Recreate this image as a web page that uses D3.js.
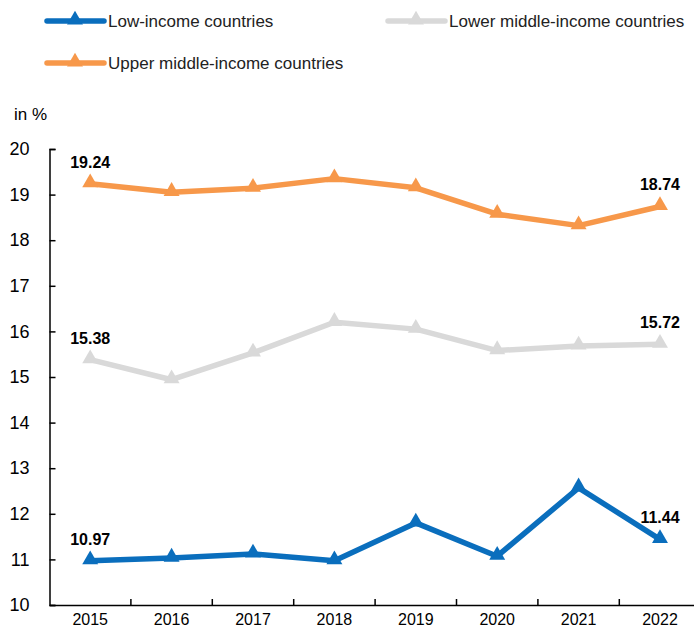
<!DOCTYPE html>
<html><head><meta charset="utf-8">
<script src="https://cdn.jsdelivr.net/npm/d3@7"></script>
<style>body{margin:0;background:#fff}svg{display:block;font-family:"Liberation Sans",Arial,sans-serif}</style>
</head><body><svg id="c" width="694" height="629"></svg>
<script>
const years = ["2015","2016","2017","2018","2019","2020","2021","2022"];
const lowIncome = [10.97, 11.03, 11.12, 10.97, 11.80, 11.07, 12.57, 11.44];
const lowerMiddle = [15.38, 14.94, 15.53, 16.20, 16.05, 15.58, 15.68, 15.72];
const upperMiddle = [19.24, 19.05, 19.14, 19.35, 19.15, 18.57, 18.32, 18.74];
const seriesNames = ["Low-income countries","Lower middle-income countries","Upper middle-income countries"];
const seriesColors = ["#0A6EBD","#D9D9D9","#F7984A"];
const yTicks = [10,11,12,13,14,15,16,17,18,19,20];

const svg = d3.select("#c");
const x = d3.scaleBand().domain(years).range([49.5, 700.7]);
const y = d3.scaleLinear().domain([10,20]).range([605,149]);

// axes
const yAxis = svg.append("g").attr("transform","translate(49.5,0)")
  .call(d3.axisLeft(y).tickValues(yTicks).tickSizeInner(-6).tickSizeOuter(-6).tickPadding(20));
yAxis.select(".domain").attr("stroke","#000").attr("stroke-width",1.5);
yAxis.selectAll(".tick line").attr("stroke","#000").attr("stroke-width",1.5);
yAxis.selectAll("text").attr("font-size",18).attr("fill","#000");

const xAxis = svg.append("g").attr("transform","translate(0,605)")
  .call(d3.axisBottom(x).tickSize(0).tickPadding(9));
xAxis.select(".domain").attr("stroke","#000").attr("stroke-width",1.5);
xAxis.selectAll("text").attr("font-size",16).attr("fill","#000");
// boundary ticks (inward)
svg.append("g").selectAll("line").data(years.slice(1)).join("line")
  .attr("x1",d=>x(d)).attr("x2",d=>x(d)).attr("y1",605).attr("y2",599)
  .attr("stroke","#000").attr("stroke-width",1.5);

svg.append("text").attr("x",14).attr("y",120).attr("font-size",17).text("in %");

const data = [lowIncome, lowerMiddle, upperMiddle];
const tri = d3.symbol().type(d3.symbolTriangle).size(110);
const line = d3.line().x((d,i)=>x(years[i])+x.bandwidth()/2).y(d=>y(d));

data.forEach((vals,k)=>{
  const g = svg.append("g");
  g.append("path").datum(vals).attr("d",line).attr("fill","none")
    .attr("stroke",seriesColors[k]).attr("stroke-width",5.5).attr("stroke-linejoin","round");
  g.selectAll("path.m").data(vals).join("path").attr("class","m")
    .attr("transform",(d,i)=>`translate(${x(years[i])+x.bandwidth()/2},${y(d)-1})`)
    .attr("d",tri).attr("fill",seriesColors[k]);
  [0, vals.length-1].forEach(i=>{
    g.append("text").attr("x",x(years[i])+x.bandwidth()/2).attr("y",y(vals[i])-16)
      .attr("text-anchor","middle").attr("font-size",16).attr("font-weight","bold")
      .text(vals[i].toFixed(2));
  });
});

// legend
const legendPos = [[47,21],[388,21],[47,63]];
seriesNames.forEach((n,k)=>{
  const [lx,ly] = legendPos[k];
  const g = svg.append("g");
  g.append("line").attr("x1",lx).attr("x2",lx+57).attr("y1",ly).attr("y2",ly)
    .attr("stroke",seriesColors[k]).attr("stroke-width",5.5).attr("stroke-linecap","round");
  g.append("path").attr("d",tri).attr("transform",`translate(${lx+28},${ly-1})`).attr("fill",seriesColors[k]);
  g.append("text").attr("x",lx+61).attr("y",ly).attr("dy","0.35em").attr("font-size",17).attr("fill","#222").text(n);
});
</script></body></html>
